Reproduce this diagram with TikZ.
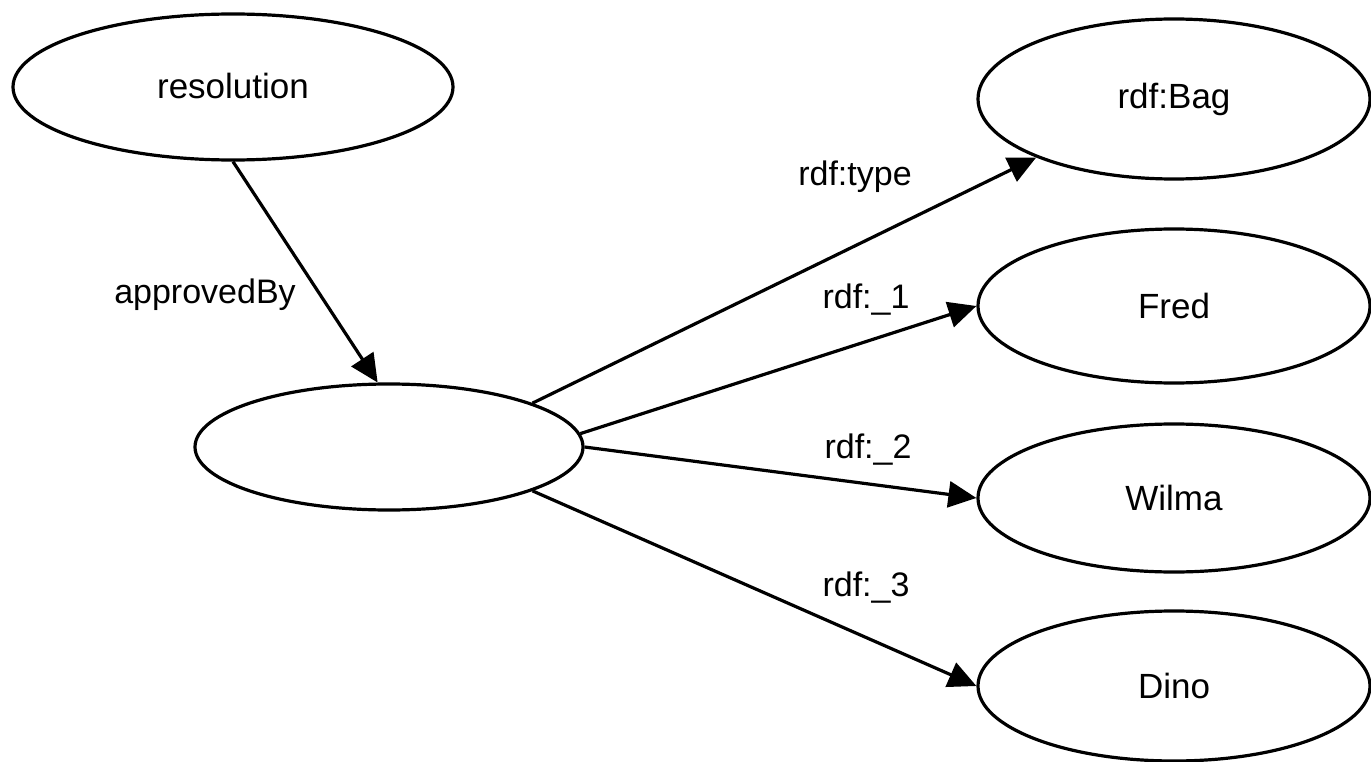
\documentclass[tikz,border=0pt]{standalone}
\usepackage{fontspec}
\setmainfont{Liberation Sans}
\usetikzlibrary{shapes.geometric,arrows.meta}
\begin{document}
\begin{tikzpicture}[x=1pt,y=-1pt,
  ell/.style={draw,ellipse,line width=3.2pt,inner sep=0pt,font=\fontsize{35}{40}\selectfont},
  rel/.style={line width=3.2pt,-{Triangle[length=28pt,width=26pt]}},
  lbl/.style={font=\fontsize{34}{40}\selectfont,inner sep=0pt}]
\useasboundingbox (0,0) rectangle (1371,762);
\node[ell,minimum width=440pt,minimum height=146pt] (res) at (233,87) {\raisebox{3pt}{resolution}};
\node[ell,minimum width=388pt,minimum height=126pt] (b) at (389,447) {};
\node[ell,minimum width=392pt,minimum height=160pt] (bag) at (1174,99) {rdf:Bag};
\node[ell,minimum width=392pt,minimum height=154pt] (fred) at (1174,306) {Fred};
\node[ell,minimum width=392pt,minimum height=148pt] (wilma) at (1174,498) {Wilma};
\node[ell,minimum width=392pt,minimum height=150pt] (dino) at (1174,686) {Dino};
\draw[rel] (res.south) -- (b.100);
\draw[rel] (b.17) -- (bag.203);
\draw[rel] (b.4) -- (fred.west);
\draw[rel] (b.east) -- (wilma.west);
\draw[rel] (b.-17) -- (dino.west);
\node[lbl] (l0) at (205,295) {approvedBy};
\node[lbl] (l1) at (855,177) {rdf:type};
\node[lbl] (l2) at (866,300) {rdf:\_1};
\node[lbl] (l3) at (868,450) {rdf:\_2};
\node[lbl] (l4) at (866,588) {rdf:\_3};
\end{tikzpicture}
\end{document}
